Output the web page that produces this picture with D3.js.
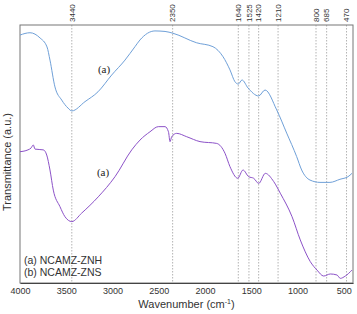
<!DOCTYPE html>
<html>
<head>
<meta charset="utf-8">
<script src="https://cdn.jsdelivr.net/npm/d3@7"></script>
<style>
  body { margin: 0; background: #fff; }
  text { font-family: "Liberation Sans", Arial, sans-serif; }
  text.tag { font-family: "Liberation Serif", "Times New Roman", serif; }
</style>
</head>
<body>
<div id="chart"></div>
<script>
// FTIR spectra: [wavenumber, transmittance (a.u.)]
var seriesA = [
  [4000, 96.1], [3892, 97.0], [3784, 95.0], [3708, 91.5], [3676, 86.4],
  [3622, 76.0], [3549, 70.9], [3481, 67.8], [3440, 66.7], [3297, 70.3],
  [3157, 74.1], [3009, 80.6], [2865, 86.4], [2757, 91.6], [2703, 94.2],
  [2541, 97.7], [2432, 97.5], [2346, 96.8], [2090, 93.1], [1914, 91.6],
  [1805, 87.7], [1730, 82.6], [1676, 78.0], [1640, 77.1], [1600, 78.7],
  [1535, 75.6], [1420, 72.5], [1351, 74.8], [1225, 67.1], [1117, 58.1],
  [1009, 49.0], [955, 43.8], [865, 39.9], [757, 39.0], [649, 39.0],
  [541, 40.2], [454, 41.2], [411, 42.5]
];
var seriesB = [
  [4000, 50.9], [3914, 51.6], [3881, 52.3], [3856, 53.5], [3838, 51.9],
  [3748, 51.6], [3711, 49.6], [3676, 43.8], [3640, 36.0], [3568, 29.6],
  [3514, 25.7], [3440, 23.8], [3333, 27.1], [3154, 33.4], [2973, 41.2],
  [2792, 51.6], [2703, 55.4], [2595, 58.6], [2505, 60.6], [2432, 60.6],
  [2395, 58.6], [2378, 54.8], [2360, 56.7], [2306, 58.0], [2198, 56.7],
  [2054, 54.8], [1873, 54.1], [1784, 50.3], [1730, 45.1], [1646, 40.6],
  [1589, 43.8], [1528, 41.2], [1474, 40.6], [1419, 38.6], [1348, 42.5],
  [1257, 39.3], [1186, 34.8], [1059, 25.7], [970, 16.7], [862, 8.3],
  [789, 5.0], [717, 2.7], [645, 3.5], [573, 3.1], [537, 1.8],
  [483, 2.7], [411, 5.0]
];
var peaks = [3440, 2350, 1640, 1525, 1420, 1210, 800, 685, 470];
var xTicks = [4000, 3500, 3000, 2500, 2000, 1500, 1000, 500];
var legendLines = ["(a) NCAMZ-ZNH", "(b) NCAMZ-ZNS"];

var width = 357, height = 314;
var margin = {top: 25, right: 4, bottom: 31, left: 20};

var svg = d3.select("#chart").append("svg")
    .attr("width", width)
    .attr("height", height);

var x = d3.scaleLinear().domain([4000, 400]).range([margin.left, width - margin.right]);
var y = d3.scaleLinear().domain([0, 100]).range([height - margin.bottom, margin.top]);

// peak guide lines
svg.append("g")
    .selectAll("line")
    .data(peaks)
    .enter()
    .append("line")
    .attr("x1", function(d) { return x(d); })
    .attr("x2", function(d) { return x(d); })
    .attr("y1", margin.top)
    .attr("y2", height - margin.bottom)
    .attr("stroke", "#a0a0a0")
    .attr("stroke-width", 0.8)
    .attr("stroke-dasharray", "1.5,1.5");

svg.append("g")
    .selectAll("text")
    .data(peaks)
    .enter()
    .append("text")
    .attr("transform", function(d) { return "translate(" + x(d) + "," + (margin.top - 3) + ") rotate(-90)"; })
    .attr("dy", "0.35em")
    .attr("text-anchor", "start")
    .attr("font-size", 8)
    .attr("fill", "#333")
    .text(function(d) { return d; });

// frame
svg.append("rect")
    .attr("x", margin.left)
    .attr("y", margin.top)
    .attr("width", width - margin.left - margin.right)
    .attr("height", height - margin.bottom - margin.top)
    .attr("fill", "none")
    .attr("stroke", "#777")
    .attr("stroke-width", 1);

// spectra
var line = d3.line()
    .x(function(d) { return x(d[0]); })
    .y(function(d) { return y(d[1]); })
    .curve(d3.curveMonotoneX);

svg.append("path")
    .datum(seriesA)
    .attr("d", line)
    .attr("fill", "none")
    .attr("stroke", "#6fa0d8")
    .attr("stroke-width", 1);

svg.append("path")
    .datum(seriesB)
    .attr("d", line)
    .attr("fill", "none")
    .attr("stroke", "#8c52c8")
    .attr("stroke-width", 1);

// x axis
var xAxis = svg.append("g")
    .attr("transform", "translate(0," + (height - margin.bottom) + ")")
    .call(d3.axisBottom(x).tickValues(xTicks).tickSize(0).tickPadding(5).tickFormat(d3.format("d")));
xAxis.select(".domain").attr("stroke", "#444");
xAxis.selectAll("text")
    .attr("font-size", 9)
    .attr("fill", "#333")
    .style("font-family", "Liberation Sans, Arial, sans-serif");

svg.append("text")
    .attr("x", (margin.left + width - margin.right) / 2)
    .attr("y", height - 6)
    .attr("text-anchor", "middle")
    .attr("font-size", 11)
    .attr("fill", "#333")
    .html("Wavenumber (cm<tspan dy='-4' font-size='7'>-1</tspan><tspan dy='4'>)</tspan>");

svg.append("text")
    .attr("transform", "translate(11,162) rotate(-90)")
    .attr("text-anchor", "middle")
    .attr("font-size", 11)
    .attr("fill", "#333")
    .text("Transmittance (a.u.)");

// curve tags
svg.append("text")
    .attr("class", "tag")
    .attr("x", 104).attr("y", 73)
    .attr("text-anchor", "middle")
    .attr("font-size", 11)
    .attr("fill", "#222")
    .text("(a)");
svg.append("text")
    .attr("class", "tag")
    .attr("x", 103).attr("y", 176)
    .attr("text-anchor", "middle")
    .attr("font-size", 11)
    .attr("fill", "#222")
    .text("(a)");

// legend
svg.append("g")
    .selectAll("text")
    .data(legendLines)
    .enter()
    .append("text")
    .attr("x", 24)
    .attr("y", function(d, i) { return 264 + i * 11.5; })
    .attr("font-size", 10.5)
    .attr("fill", "#333")
    .text(function(d) { return d; });
</script>
</body>
</html>
